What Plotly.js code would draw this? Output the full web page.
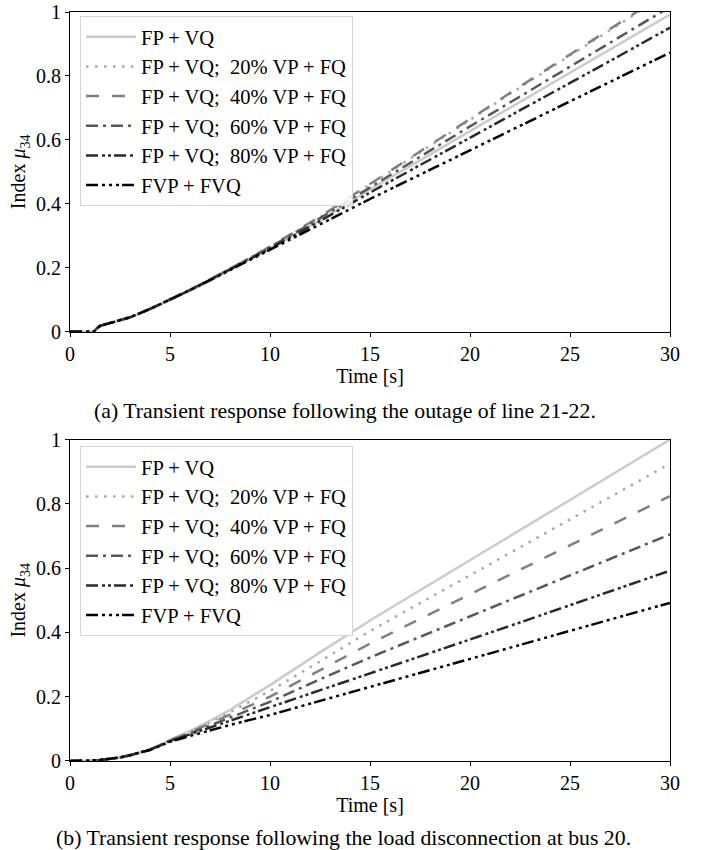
<!DOCTYPE html>
<html><head><meta charset="utf-8">
<script src="https://cdn.plot.ly/plotly-3.0.1.min.js"></script>
<style>html,body{margin:0;padding:0;background:#fff;} #chart{width:709px;height:850px;}</style>
</head><body><div id="chart"></div>
<script>
// ---------- data ----------
const seriesNames = ['FP + VQ', 'FP + VQ;  20% VP + FQ', 'FP + VQ;  40% VP + FQ', 'FP + VQ;  60% VP + FQ', 'FP + VQ;  80% VP + FQ', 'FVP + FVQ'];

// (a) outage of line 21-22
const timeA = [0, 1.2, 1.3, 1.5, 2, 3, 4, 5, 6, 7, 8, 9, 10, 12.5, 15, 17.5, 20, 22.5, 25, 27.5, 30];
const a_fpvq  = [0, 0, 0.008, 0.018, 0.026, 0.044, 0.070, 0.098, 0.128, 0.159, 0.192, 0.226, 0.260, 0.348, 0.445, 0.536, 0.628, 0.719, 0.810, 0.901, 0.992];
const a_vp20  = [0, 0, 0.008, 0.018, 0.027, 0.045, 0.071, 0.100, 0.131, 0.163, 0.196, 0.230, 0.265, 0.358, 0.460, 0.562, 0.664, 0.764, 0.864, 0.963, 1.062];
const a_vp40  = [0, 0, 0.008, 0.018, 0.027, 0.045, 0.071, 0.100, 0.131, 0.163, 0.196, 0.231, 0.266, 0.360, 0.462, 0.564, 0.667, 0.767, 0.867, 0.967, 1.067];
const a_vp60  = [0, 0, 0.008, 0.018, 0.027, 0.045, 0.071, 0.100, 0.131, 0.163, 0.196, 0.229, 0.264, 0.355, 0.452, 0.547, 0.642, 0.735, 0.828, 0.922, 1.016];
const a_vp80  = [0, 0, 0.008, 0.018, 0.027, 0.045, 0.071, 0.100, 0.130, 0.162, 0.194, 0.227, 0.260, 0.346, 0.435, 0.521, 0.606, 0.692, 0.778, 0.864, 0.951];
const a_fvp   = [0, 0, 0.008, 0.018, 0.027, 0.045, 0.071, 0.100, 0.130, 0.161, 0.193, 0.224, 0.255, 0.335, 0.415, 0.491, 0.567, 0.643, 0.720, 0.796, 0.873];

// (b) load disconnection at bus 20
const timeB = [0, 0.5, 1, 1.5, 2, 2.5, 3, 3.5, 4, 4.5, 5, 6, 7, 8, 9, 10, 12.5, 15, 17.5, 20, 22.5, 25, 27.5, 30];
const b_fpvq  = [0, 0, 0.001, 0.003, 0.006, 0.011, 0.018, 0.026, 0.036, 0.050, 0.066, 0.094, 0.125, 0.159, 0.197, 0.236, 0.338, 0.437, 0.531, 0.624, 0.718, 0.812, 0.906, 1.000];
const b_vp20  = [0, 0, 0.001, 0.003, 0.006, 0.011, 0.018, 0.026, 0.036, 0.050, 0.065, 0.091, 0.120, 0.152, 0.185, 0.218, 0.310, 0.404, 0.491, 0.578, 0.664, 0.751, 0.838, 0.925];
const b_vp40  = [0, 0, 0.001, 0.003, 0.006, 0.011, 0.018, 0.026, 0.036, 0.049, 0.064, 0.089, 0.116, 0.145, 0.172, 0.200, 0.283, 0.365, 0.442, 0.518, 0.595, 0.671, 0.748, 0.824];
const b_vp60  = [0, 0, 0.001, 0.003, 0.006, 0.011, 0.018, 0.026, 0.035, 0.049, 0.063, 0.086, 0.110, 0.136, 0.160, 0.184, 0.254, 0.322, 0.386, 0.450, 0.514, 0.577, 0.641, 0.705];
const b_vp80  = [0, 0, 0.001, 0.003, 0.006, 0.011, 0.018, 0.026, 0.035, 0.048, 0.062, 0.083, 0.104, 0.125, 0.146, 0.166, 0.220, 0.271, 0.324, 0.378, 0.431, 0.485, 0.538, 0.592];
const b_fvp   = [0, 0, 0.001, 0.003, 0.006, 0.011, 0.018, 0.025, 0.034, 0.047, 0.060, 0.078, 0.096, 0.112, 0.128, 0.143, 0.187, 0.230, 0.273, 0.317, 0.361, 0.405, 0.448, 0.492];

const xTicks = [0, 5, 10, 15, 20, 25, 30];
const yTicks = [0, 0.2, 0.4, 0.6, 0.8, 1];
const yTickText = ['0', '0.2', '0.4', '0.6', '0.8', '1'];

// ---------- styles ----------
const colors = ['#cbcbcb', '#a8a8a8', '#808080', '#585858', '#2a2a2a', '#000000'];
const dashes = ['solid', '2.5px,6.5px', '13px,13px', '12px,5px,3px,5px', '12px,4px,3px,3px,3px,3px', '12px,4px,3px,4px,3px,4px,3px,3px'];
const FONT = 'Liberation Serif, Times New Roman, serif';

const seriesA = [a_fpvq, a_vp20, a_vp40, a_vp60, a_vp80, a_fvp];
const seriesB = [b_fpvq, b_vp20, b_vp40, b_vp60, b_vp80, b_fvp];

const traces = [];
seriesA.forEach((y, i) => traces.push({
  x: timeA, y: y, type: 'scatter', mode: 'lines', name: seriesNames[i],
  xaxis: 'x', yaxis: 'y', legend: 'legend', legendgroup: 'a' + i,
  line: {color: colors[i], width: 2.5, dash: dashes[i]}
}));
seriesB.forEach((y, i) => traces.push({
  x: timeB, y: y, type: 'scatter', mode: 'lines', name: seriesNames[i],
  xaxis: 'x2', yaxis: 'y2', legend: 'legend2', legendgroup: 'b' + i,
  line: {color: colors[i], width: 2.5, dash: dashes[i]}
}));

function xAxis(anchor) {
  return {
    anchor: anchor, range: [0, 30], tickvals: xTicks, ticktext: xTicks.map(String),
    ticks: 'outside', ticklen: 4, tickwidth: 1, tickcolor: '#000',
    showline: true, linecolor: '#000', linewidth: 1, mirror: true,
    showgrid: false, zeroline: false, ticklabeloverflow: 'allow',
    tickfont: {family: FONT, size: 20, color: '#000'},
    title: {text: 'Time [s]', font: {family: FONT, size: 20, color: '#000'}, standoff: 0}
  };
}
function yAxis(anchor, domain) {
  return {
    anchor: anchor, domain: domain, range: [0, 1], tickvals: yTicks, ticktext: yTickText,
    ticks: 'outside', ticklen: 4, tickwidth: 1, tickcolor: '#000',
    showline: true, linecolor: '#000', linewidth: 1, mirror: true,
    showgrid: false, zeroline: false, ticklabeloverflow: 'allow',
    tickfont: {family: FONT, size: 20, color: '#000'},
    title: {text: 'Index <i>μ</i><sub>34</sub>', font: {family: FONT, size: 20, color: '#000'}, standoff: 4}
  };
}
function legendBox(y) {
  return {
    x: 0.0167, y: y, xanchor: 'left', yanchor: 'top',
    bgcolor: 'rgba(255,255,255,0.85)', bordercolor: '#d6d6d6', borderwidth: 1,
    font: {family: FONT, size: 20.5, color: '#000'}, tracegroupgap: 0, itemwidth: 50
  };
}

const layout = {
  width: 709, height: 850,
  margin: {l: 70, r: 39, t: 12, b: 89},
  paper_bgcolor: '#fff', plot_bgcolor: '#fff',
  showlegend: true,
  xaxis: xAxis('y'),
  yaxis: yAxis('x', [0.5732, 1]),
  xaxis2: xAxis('y2'),
  yaxis2: yAxis('x2', [0, 0.4292]),
  legend: legendBox(0.9947),
  legend2: legendBox(0.4206),
  annotations: [
    {text: '(a) Transient response following the outage of line 21-22.', xref: 'paper', yref: 'paper',
     x: 0.459, y: 0.4673, xanchor: 'center', yanchor: 'middle', showarrow: false,
     font: {family: FONT, size: 21.8, color: '#000'}},
    {text: '(b) Transient response following the load disconnection at bus 20.', xref: 'paper', yref: 'paper',
     x: 0.456, y: -0.1028, xanchor: 'center', yanchor: 'middle', showarrow: false,
     font: {family: FONT, size: 21.8, color: '#000'}}
  ]
};

Plotly.newPlot('chart', traces, layout, {staticPlot: true, displayModeBar: false});
</script></body></html>
